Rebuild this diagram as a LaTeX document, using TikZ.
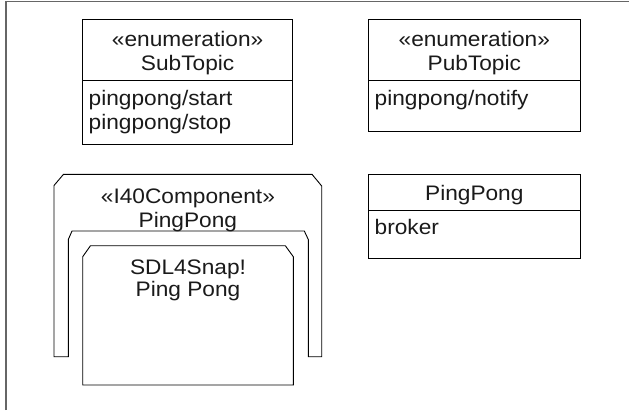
\documentclass[tikz,border=0pt]{standalone}
\usepackage{fontspec}
\setmainfont{Liberation Sans}[FakeStretch=1.08]
\definecolor{ink}{HTML}{1A1A1A}
\definecolor{framegray}{HTML}{666666}
\begin{document}
\begin{tikzpicture}[x=1pt,y=-1pt,
  line join=miter,
  outline/.style={draw=black,line width=0.9pt,fill=white},
  txt/.style={inner sep=0pt,anchor=base,text=ink,font=\fontsize{21}{24}\selectfont},
  attr/.style={txt,anchor=base west}]
\useasboundingbox (0,0) rectangle (629,410);
% diagram frame (left and top edges)
\draw[framegray,line width=1.7pt] (5.8,410) -- (5.8,1.5) -- (629,1.5);

% enumeration SubTopic
\draw[outline] (82.5,19.3) rectangle (292.7,144.3);
\draw[outline] (82.5,80.3) -- (292.7,80.3);
\node[txt] (subst) at (187.6,46.5) {«enumeration»};
\node[txt] (subname) at (187.6,70) {SubTopic};
\node[attr] (substart) at (88.5,105) {pingpong/start};
\node[attr] (substop) at (88.5,129.5) {pingpong/stop};

% enumeration PubTopic
\draw[outline] (368.2,19.3) rectangle (580.3,131);
\draw[outline] (368.2,80.3) -- (580.3,80.3);
\node[txt] (pubst) at (474.3,46.5) {«enumeration»};
\node[txt] (pubname) at (474.3,70) {PubTopic};
\node[attr] (pubnotify) at (374.5,105) {pingpong/notify};

% class PingPong
\draw[outline] (368.2,174.3) rectangle (580.3,258.3);
\draw[outline] (368.2,210.8) -- (580.3,210.8);
\node[txt] (clsname) at (474.3,200) {PingPong};
\node[attr] (clsbroker) at (374.5,234) {broker};

% component PingPong with its border
\draw[outline] (54,356.7) -- (54,185.5) -- (63.5,174.3) -- (312,174.3)
  -- (321.7,186) -- (321.7,356.7) -- (308.3,356.7) -- (308.3,239.5)
  -- (304.3,231) -- (72,231) -- (68.3,239.5) -- (68.3,356.7) -- cycle;
\node[txt] (compst) at (187.9,203.5) {«I40Component»};
\node[txt] (compname) at (187.9,227) {PingPong};

% inner part
\draw[outline] (82.7,385) -- (82.7,256.7) -- (90.5,245.7) -- (285.3,245.7)
  -- (293.3,256.7) -- (293.3,385) -- cycle;
\node[txt] (partname) at (188,274) {SDL4Snap!};
\node[txt] (partname2) at (188,296.5) {Ping Pong};
\end{tikzpicture}
\end{document}
